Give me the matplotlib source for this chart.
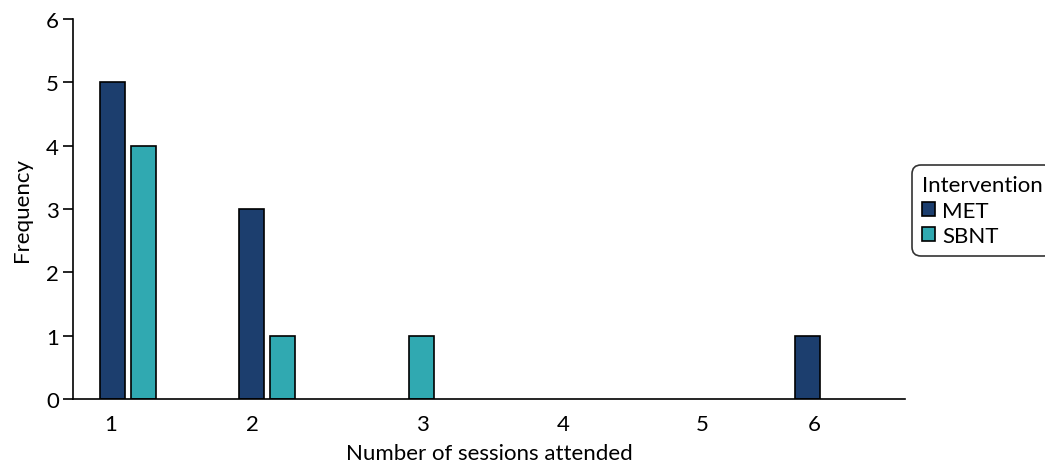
import matplotlib
matplotlib.use("Agg")
import matplotlib.pyplot as plt
import numpy as np
from matplotlib.patches import Patch

plt.rcParams['font.family'] = ['Lato', 'DejaVu Sans']

sessions = [1, 2, 3, 4, 5, 6]
met = [5, 3, 0, 0, 0, 1]
sbnt = [4, 1, 1, 0, 0, 0]
tick_labels = ["1", "2", "3", "4", "5", "6"]
# label positions as drawn in the original (slightly offset from group centres)
tick_pos = [0.878, 1.892, 3.115, 4.13, 5.13, 5.935]

met_color = "#1c3e6e"
sbnt_color = "#30a9b1"

fig = plt.figure(figsize=(10.45, 4.64), dpi=100)
ax = fig.add_axes([73/1045, 64/464, (905-73)/1045, (400-20)/464])

x = np.array(sessions, dtype=float)
w = 0.18
off = 0.112
for xi, v in zip(x, met):
    if v > 0:
        ax.bar(xi - off, v, width=w, color=met_color, edgecolor="black", linewidth=1.2)
for xi, v in zip(x, sbnt):
    if v > 0:
        ax.bar(xi + off, v, width=w, color=sbnt_color, edgecolor="black", linewidth=1.2)

ax.set_xlim(0.604, 6.59)
ax.set_ylim(0, 6)
ax.set_yticks(range(0, 7))
ax.set_xticks(tick_pos)
ax.set_xticklabels(tick_labels)
ax.tick_params(axis='x', length=0, pad=11, labelsize=16)
ax.tick_params(axis='y', length=7, width=1.2, labelsize=16, pad=3)
for s in ['top', 'right']:
    ax.spines[s].set_visible(False)
for s in ['left', 'bottom']:
    ax.spines[s].set_linewidth(1.2)
ax.set_xlabel("Number of sessions attended", fontsize=16, labelpad=6)
ax.set_ylabel("Frequency", fontsize=16, labelpad=10)

handles = [Patch(facecolor=met_color, edgecolor="black", linewidth=1.2, label="MET"),
           Patch(facecolor=sbnt_color, edgecolor="black", linewidth=1.2, label="SBNT")]
leg = fig.legend(handles=handles, title="Intervention", loc="upper left",
                 bbox_to_anchor=(912/1045, 1 - 166/464), fontsize=16, title_fontsize=16,
                 frameon=True, fancybox=True, edgecolor="black", alignment="left",
                 handlelength=0.6, handleheight=0.6, handletextpad=0.3,
                 borderpad=0.45, labelspacing=0.25, borderaxespad=0)
leg.get_frame().set_linewidth(1.2)
leg.get_frame().set_boxstyle("round,pad=0,rounding_size=0.4")

fig.savefig("out.png", dpi=100)
